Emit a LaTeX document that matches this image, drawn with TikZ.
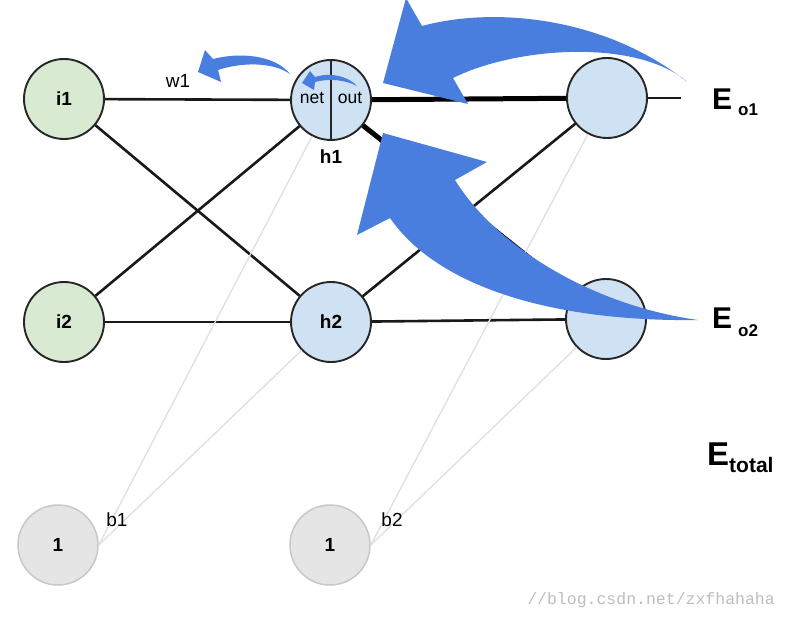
\documentclass[tikz,border=0pt]{standalone}
\usepackage{fontspec}
\setmainfont{Liberation Sans}
\newfontfamily\wmfont{Liberation Mono}
\definecolor{inpgreen}{RGB}{217,234,211}
\definecolor{hidblue}{RGB}{207,226,243}
\definecolor{biasgrey}{RGB}{229,229,229}
\definecolor{biasline}{RGB}{200,200,200}
\definecolor{arrowblue}{RGB}{74,126,222}
\definecolor{wmgrey}{RGB}{190,190,190}
\tikzset{
  neuron/.style={circle, minimum size=80pt, inner sep=0pt, line width=1.9pt, draw=black!85,
    font=\fontsize{19}{19}\selectfont\bfseries},
  inp/.style={neuron, fill=inpgreen},
  hid/.style={neuron, fill=hidblue},
  biasnode/.style={neuron, fill=biasgrey, draw=biasline, line width=1.5pt},
  conn/.style={line width=2.6pt, draw=black!90},
  thickconn/.style={line width=5pt, draw=black},
  biasconn/.style={line width=1.3pt, draw=black!12},
  bigarrow/.style={fill=arrowblue},
  boldlbl/.style={font=\fontsize{19}{19}\selectfont\bfseries, inner sep=0pt},
  plainlbl/.style={font=\fontsize{19}{19}\selectfont, inner sep=0pt},
  smalllbl/.style={font=\fontsize{17.5}{17.5}\selectfont, inner sep=0pt},
}
\begin{document}
\begin{tikzpicture}[x=1pt,y=-1pt]
\useasboundingbox[fill=white] (0,0) rectangle (786,620);

% nodes
\node[inp] (i1) at (64,99) {i1};
\node[inp] (i2) at (64,322) {i2};
\node[hid] (h1) at (331,100) {};
\node[hid] (h2) at (331,322) {h2};
\node[hid] (o1) at (607,98) {};
\node[hid] (o2) at (606,319) {};
\node[biasnode] (b1) at (58,545) {1};
\node[biasnode] (b2) at (330,545) {1};

% h1 interior
\draw[line width=2.2pt, black!85] (h1.north) -- (h1.south);
\node[smalllbl] (net) at (312,98) {net};
\node[smalllbl] (out) at (350,98) {out};
\node[boldlbl] (h1lbl) at (331,157) {h1};

% connections
\draw[conn] (i1) -- (h1);
\draw[conn] (i1) -- (h2);
\draw[conn] (i2) -- (h1);
\draw[conn] (i2) -- (h2);
\draw[thickconn] (h1) -- (o1);
\draw[thickconn] (h1) -- (o2);
\draw[conn] (h2) -- (o1);
\draw[conn] (h2) -- (o2);
\coordinate (o1end) at (681,98);
\draw[conn] (o1) -- (o1end);

% bias connections
\draw[biasconn] (b1.east) -- (h1);
\draw[biasconn] (b1.east) -- (h2);
\draw[biasconn] (b2.east) -- (o1);
\draw[biasconn] (b2.east) -- (o2);

% labels
\node[plainlbl] (w1) at (178,81) {w1};
\node[plainlbl] (b1lbl) at (117,520) {b1};
\node[plainlbl] (b2lbl) at (392,520) {b2};

\node[anchor=base west, inner sep=0pt, font=\fontsize{30}{30}\selectfont\bfseries] (eo1) at (712,110)
  {E\hspace{6pt}\raisebox{-6pt}{\fontsize{17}{17}\selectfont o1}};
\node[anchor=base west, inner sep=0pt, font=\fontsize{30}{30}\selectfont\bfseries] (eo2) at (712,328)
  {E\hspace{6pt}\raisebox{-8pt}{\fontsize{17}{17}\selectfont o2}};
\node[anchor=base west, inner sep=0pt, font=\fontsize{33}{33}\selectfont\bfseries] (etot) at (707,465)
  {E\raisebox{-7pt}{\fontsize{21}{21}\selectfont total}};

% big arrows
\fill[bigarrow] (687,82) .. controls (610,20) and (500,5) .. (422,26)
  -- (406,-2) -- (383,83) -- (468,104) -- (453,78)
  .. controls (520,45) and (640,40) .. (687,82) -- cycle;
\fill[bigarrow] (698,320) .. controls (590,305) and (495,245) .. (455,180)
  -- (487,162) -- (383,133) -- (357,235) -- (390,218)
  .. controls (440,290) and (560,322) .. (698,320) -- cycle;

% small arrows
\fill[bigarrow] (290,74) .. controls (275,55) and (240,52) .. (213,59)
  -- (205,50) -- (198,72) -- (221,82) -- (218,70)
  .. controls (242,62) and (273,62) .. (290,74) -- cycle;
\fill[bigarrow] (357,86) .. controls (348,76) and (330,72) .. (315,77)
  -- (310,71) -- (302,83) -- (314,90) -- (315,82)
  .. controls (330,78) and (345,80) .. (357,86) -- cycle;

% watermark
\node[anchor=base east, inner sep=0pt, text=wmgrey, font=\wmfont\fontsize{16.5}{16.5}\selectfont] (wm) at (775,604)
  {//blog.csdn.net/zxfhahaha};
\end{tikzpicture}
\end{document}
